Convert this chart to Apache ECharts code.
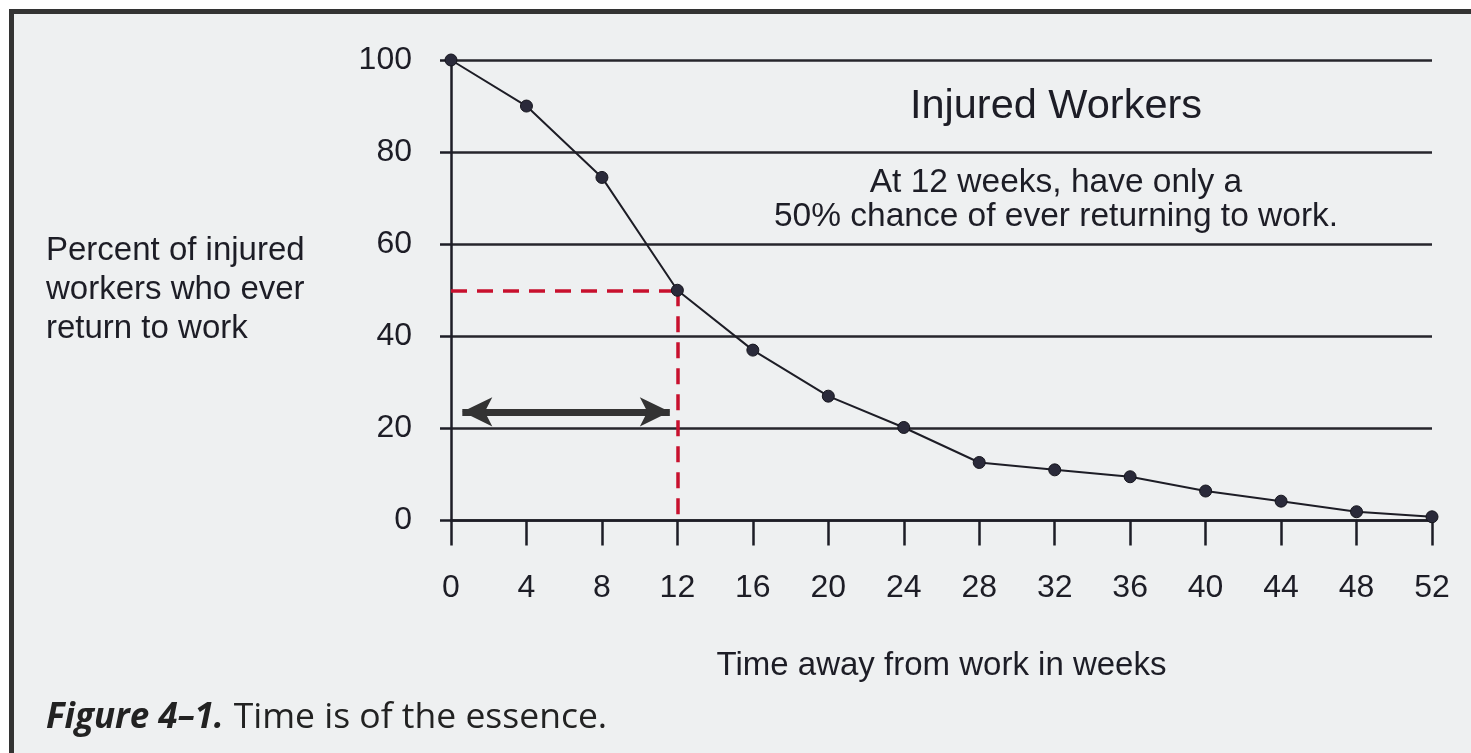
<!DOCTYPE html>
<html>
<head>
<meta charset="utf-8">
<script src="https://cdn.jsdelivr.net/npm/echarts@6/dist/echarts.min.js"></script>
<style>
  html, body { margin: 0; padding: 0; background: #ffffff; }
  #chart { width: 1471px; height: 753px; }
</style>
</head>
<body>
<div id="chart"></div>
<script>
// ---- data ----
const weeks = [0, 4, 8, 12, 16, 20, 24, 28, 32, 36, 40, 44, 48, 52];
const percentReturning = [100, 90, 74.5, 50, 37, 27, 20.2, 12.6, 11, 9.5, 6.4, 4.2, 1.9, 0.8];
const yTickValues = [0, 20, 40, 60, 80, 100];
const refWeek = 12;
const refPercent = 50;
const arrowSpan = [0.6, 11.6];   // weeks (double arrow tips)
const arrowLevel = 23.6;         // percent
const titleText = 'Injured Workers';
const noteLines = ['At 12 weeks, have only a', '50% chance of ever returning to work.'];
const yTitleLines = ['Percent of injured', 'workers who ever', 'return to work'];
const xTitle = 'Time away from work in weeks';
const captionBold = 'Figure 4–1.';
const captionText = 'Time is of the essence.';

const ink = '#1d1d26';
const font = '"Liberation Sans", Arial, sans-serif';

const chart = echarts.init(document.getElementById('chart'), null, { renderer: 'canvas' });

const option = {
  backgroundColor: '#ffffff',
  animation: false,
  graphic: [
    { type: 'rect', z: -10, shape: { x: 9, y: 9, width: 1462, height: 744 }, style: { fill: '#eef0f1' } },
    { type: 'rect', z: -9, shape: { x: 9, y: 9, width: 1462, height: 5 }, style: { fill: '#333333' } },
    { type: 'rect', z: -9, shape: { x: 9, y: 9, width: 5, height: 744 }, style: { fill: '#333333' } },
    { type: 'text', left: 46, top: 231, style: { text: yTitleLines.join('\n'), font: '33px ' + font, fill: ink, lineHeight: 39 } },
    { type: 'text', x: 1056, y: 107, style: { text: titleText, font: '41.5px ' + font, fill: ink, align: 'center', verticalAlign: 'middle' } },
    { type: 'text', x: 1056, y: 200, style: { text: noteLines.join('\n'), font: '33.5px ' + font, fill: ink, align: 'center', verticalAlign: 'middle', lineHeight: 34 } },
    { type: 'text', left: 46, top: 700, style: {
        text: '{b|' + captionBold + '}   {r|' + captionText + '}',
        rich: {
          b: { font: 'italic bold 35px "Open Sans", "Noto Sans", sans-serif', fill: '#222' },
          r: { font: '35.5px "Open Sans", "Noto Sans", sans-serif', fill: '#222' }
        }
      } }
  ],
  grid: { left: 451, top: 60, width: 981, height: 460.5, containLabel: false },
  xAxis: {
    type: 'value', min: 0, max: 52, interval: 4,
    name: xTitle, nameLocation: 'middle', nameGap: 129,
    nameTextStyle: { fontFamily: font, fontSize: 33, color: ink },
    axisLine: { show: true, onZero: false, lineStyle: { color: ink, width: 2.5 } },
    axisTick: { show: true, length: 25, lineStyle: { color: ink, width: 2.5 } },
    axisLabel: { margin: 52, fontFamily: font, fontSize: 32, color: ink },
    splitLine: { show: false }
  },
  yAxis: {
    type: 'value', min: 0, max: 100, interval: 20,
    axisLine: { show: true, lineStyle: { color: ink, width: 2.5 } },
    axisTick: { show: true, length: 11, lineStyle: { color: ink, width: 2.5 } },
    axisLabel: { margin: 39, fontFamily: font, fontSize: 32, color: ink },
    splitLine: { show: true, lineStyle: { color: '#26262c', width: 2.5 } }
  },
  series: [
    {
      type: 'line',
      clip: false,
      data: weeks.map((w, i) => [w, percentReturning[i]]),
      symbol: 'circle',
      symbolSize: 12,
      itemStyle: { color: '#2a2a3a', borderColor: '#15151d', borderWidth: 1 },
      lineStyle: { color: ink, width: 2 },
      z: 5,
      markLine: {
        silent: true,
        animation: false,
        symbol: ['none', 'none'],
        label: { show: false },
        data: [
          [ { coord: [0, refPercent], lineStyle: { color: '#c8102e', width: 3.5, type: [16, 10] } }, { coord: [refWeek, refPercent] } ],
          [ { coord: [refWeek, refPercent], lineStyle: { color: '#c8102e', width: 3.5, type: [16, 10] } }, { coord: [refWeek, 0] } ],
          [ { coord: [arrowSpan[0], arrowLevel], symbol: 'arrow', symbolSize: [22, 30],
              lineStyle: { color: '#333333', width: 7, type: 'solid' }, itemStyle: { color: '#333333' } },
            { coord: [arrowSpan[1], arrowLevel], symbol: 'arrow', symbolSize: [22, 30] } ]
        ]
      }
    }
  ]
};
chart.setOption(option);
</script>
</body>
</html>
